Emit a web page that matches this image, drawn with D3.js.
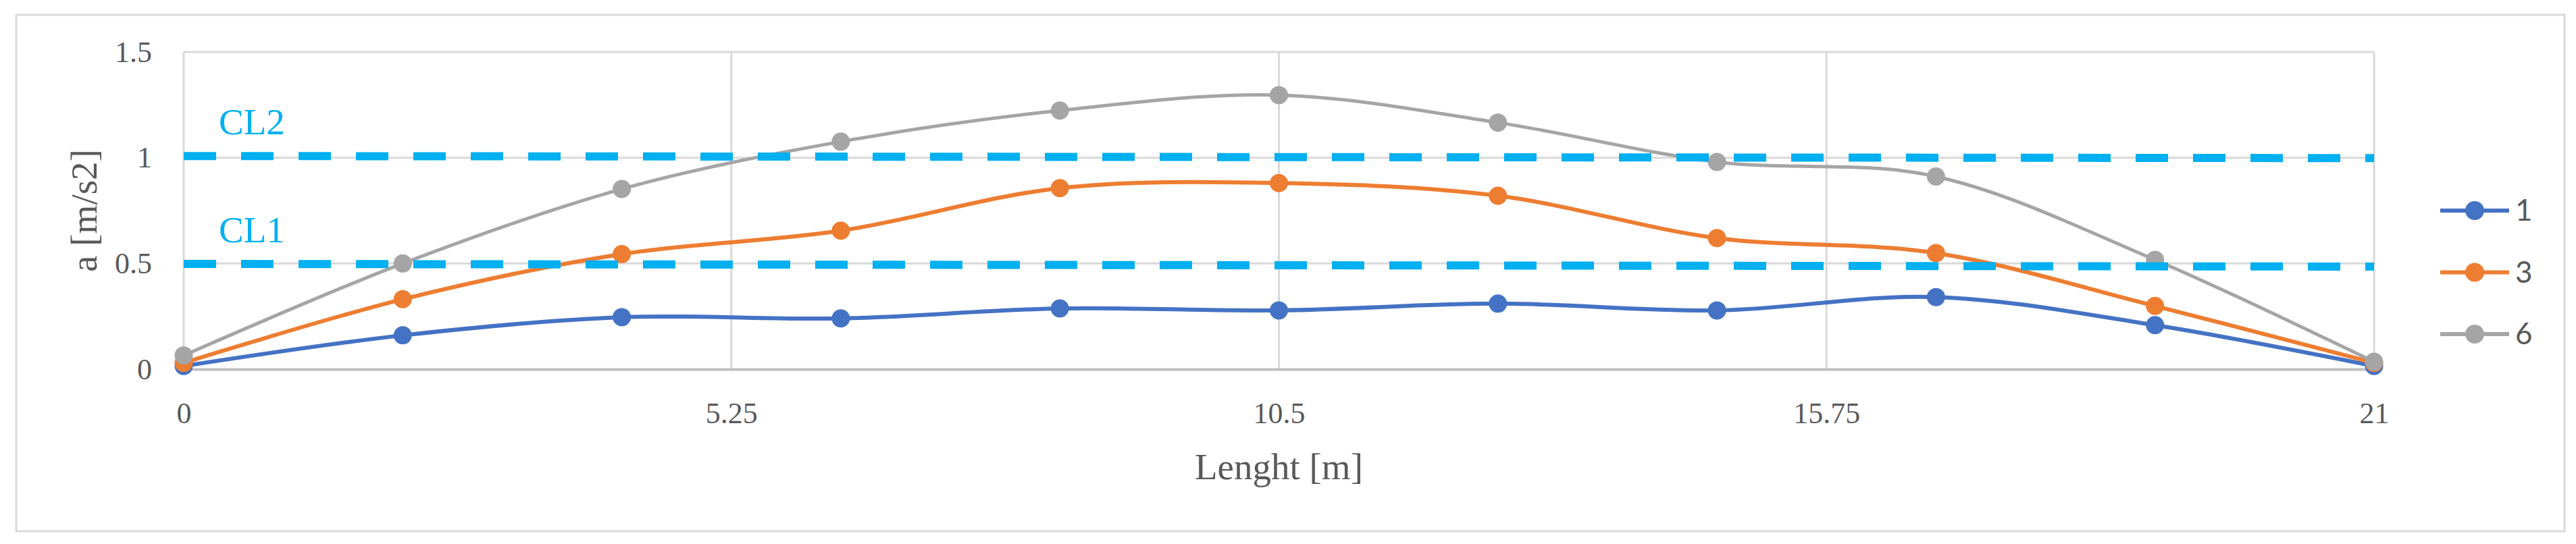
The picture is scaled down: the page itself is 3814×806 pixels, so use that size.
<!DOCTYPE html>
<html>
<head>
<meta charset="utf-8">
<script src="https://cdn.jsdelivr.net/npm/d3@7"></script>
<style>
  html, body { margin: 0; padding: 0; background: #fff; }
  svg { display: block; }
</style>
</head>
<body>
<svg id="chart" width="3814" height="806"></svg>
<script>
// ---- data ----
const lengths = [0, 2.1, 4.2, 6.3, 8.4, 10.5, 12.6, 14.7, 16.8, 18.9, 21];
const series1 = [0.015, 0.16, 0.246, 0.24, 0.287, 0.278, 0.31, 0.278, 0.341, 0.208, 0.015];
const series3 = [0.03, 0.331, 0.544, 0.655, 0.856, 0.88, 0.82, 0.62, 0.549, 0.299, 0.03];
const series6 = [0.065, 0.50, 0.852, 1.076, 1.223, 1.296, 1.166, 0.98, 0.911, 0.517, 0.035];
const seriesNames = ["1", "3", "6"];
const seriesColors = ["#4472C4", "#ED7D31", "#A5A5A5"];
const seriesWidths = [6, 6, 5];
const xTicks = [0, 5.25, 10.5, 15.75, 21];
const yTicks = [0, 0.5, 1, 1.5];
const clNames = ["CL1", "CL2"];
const clEnds = [0, 21];
const cl1Values = [0.498, 0.485];
const cl2Values = [1.008, 0.998];

// ---- layout ----
const svg = d3.select("#chart");
const W = 3814, H = 806;
svg.append("rect").attr("width", W).attr("height", H).attr("fill", "#fff");
svg.append("rect").attr("x", 24).attr("y", 22).attr("width", 3773).attr("height", 765)
  .attr("fill", "none").attr("stroke", "#D9D9D9").attr("stroke-width", 3);

const x = d3.scaleLinear().domain([0, 21]).range([272, 3515]);
const y = d3.scaleLinear().domain([0, 1.5]).range([547, 77]);

const serif = "'Liberation Serif', 'DejaVu Serif', serif";
const txtColor = "#595959";

// gridlines
const g = svg.append("g");
g.selectAll("line.hg").data(yTicks.filter(d => d > 0)).join("line")
  .attr("x1", x(0)).attr("x2", x(21)).attr("y1", d => y(d)).attr("y2", d => y(d))
  .attr("stroke", "#D9D9D9").attr("stroke-width", 3);
g.selectAll("line.vg").data(xTicks).join("line")
  .attr("x1", d => x(d)).attr("x2", d => x(d)).attr("y1", y(0)).attr("y2", y(1.5))
  .attr("stroke", "#D9D9D9").attr("stroke-width", 3);

// axes
const xAxis = svg.append("g").attr("transform", `translate(0,${y(0)})`)
  .call(d3.axisBottom(x).tickValues(xTicks).tickSize(0).tickPadding(49).tickFormat(d => String(d)));
xAxis.select(".domain").attr("stroke", "#BFBFBF").attr("stroke-width", 4);
xAxis.selectAll("text").attr("font-family", serif).attr("font-size", 44).attr("fill", txtColor);

const yAxis = svg.append("g").attr("transform", `translate(${x(0)},0)`)
  .call(d3.axisLeft(y).tickValues(yTicks).tickSize(0).tickPadding(47).tickFormat(d => String(d)));
yAxis.select(".domain").remove();
yAxis.selectAll("text").attr("font-family", serif).attr("font-size", 44).attr("fill", txtColor);

// axis titles
svg.append("text").attr("x", (x(0) + x(21)) / 2).attr("y", 710)
  .attr("text-anchor", "middle").attr("font-family", serif).attr("font-size", 55)
  .attr("fill", txtColor).text("Lenght [m]");
svg.append("text").attr("transform", `translate(143,${(y(0) + y(1.5)) / 2}) rotate(-90)`)
  .attr("text-anchor", "middle").attr("font-family", serif).attr("font-size", 55)
  .attr("fill", txtColor).text("a [m/s2]");

// series
const allSeries = [series1, series3, series6];
const line = d3.line().x((d, i) => x(lengths[i])).y(d => y(d)).curve(d3.curveCatmullRom.alpha(0));
allSeries.forEach((vals, si) => {
  const sg = svg.append("g");
  sg.append("path").datum(vals).attr("d", line).attr("fill", "none")
    .attr("stroke", seriesColors[si]).attr("stroke-width", seriesWidths[si]).attr("stroke-linejoin", "round");
  sg.selectAll("circle").data(vals).join("circle")
    .attr("cx", (d, i) => x(lengths[i])).attr("cy", d => y(d)).attr("r", 13.5)
    .attr("fill", seriesColors[si]);
});

// CL lines (drawn on top)
const clColor = "#00B0F0";
const clLine = d3.line().x((d, i) => x(clEnds[i])).y(d => y(d));
[cl1Values, cl2Values].forEach((vals, ci) => {
  svg.append("path").datum(vals).attr("d", clLine).attr("fill", "none")
    .attr("stroke", clColor).attr("stroke-width", 12).attr("stroke-dasharray", "48,37");
  svg.append("text").attr("x", x(0) + 52).attr("y", y(vals[0]) - 32)
    .attr("font-family", serif).attr("font-size", 55).attr("fill", clColor).text(clNames[ci]);
});

// legend
const lg = svg.append("g");
seriesNames.forEach((name, i) => {
  const ly = 312 + i * 91.5;
  lg.append("line").attr("x1", 3613).attr("x2", 3715).attr("y1", ly).attr("y2", ly)
    .attr("stroke", seriesColors[i]).attr("stroke-width", 6);
  lg.append("circle").attr("cx", 3664).attr("cy", ly).attr("r", 14).attr("fill", seriesColors[i]);
  lg.append("text").attr("x", 3724).attr("y", ly).attr("dy", "0.35em")
    .attr("font-family", "Lato, 'Open Sans', sans-serif").attr("font-size", 44)
    .attr("fill", txtColor).text(name);
});
</script>
</body>
</html>
